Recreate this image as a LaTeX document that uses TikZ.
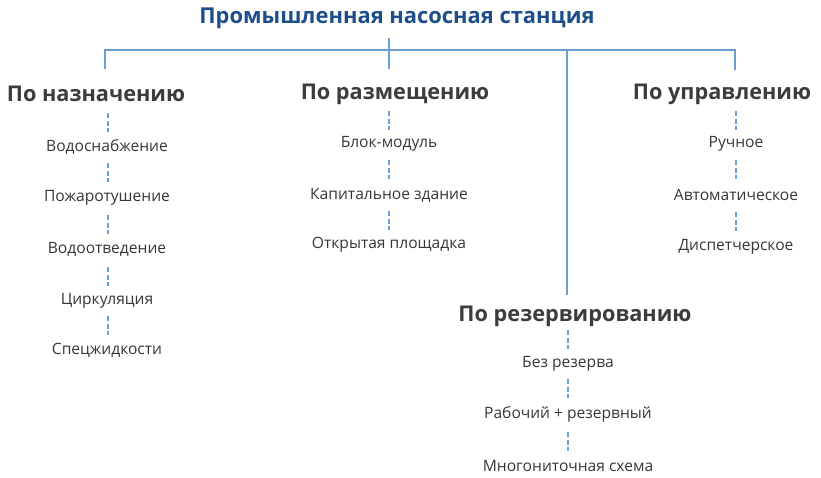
\documentclass[tikz,border=0pt]{standalone}
\usepackage{fontspec}
\setmainfont{Open Sans}
\definecolor{linec}{HTML}{6A9FD0}
\definecolor{titlec}{HTML}{1D4E8A}
\definecolor{headc}{HTML}{3C3C3C}
\definecolor{itemc}{HTML}{363636}
\begin{document}
\begin{tikzpicture}[x=1pt,y=-1pt,
  title/.style={text=titlec,font=\fontsize{21.9}{26}\selectfont\bfseries,inner sep=0pt},
  head/.style={text=headc,font=\fontsize{21.7}{26}\selectfont\bfseries,inner sep=0pt},
  item/.style={text=itemc,font=\fontsize{15.6}{19}\selectfont,inner sep=0pt},
  tree/.style={draw=linec,line width=1.8pt},
  dashln/.style={draw=linec,line width=1.8pt,dash pattern=on 5pt off 2.5pt}]
\useasboundingbox (0,0) rectangle (821,477);
\node[title] (t) at (397,18) {Промышленная насосная станция};
\coordinate (tb) at (389,38);
\coordinate (j) at (389,50);
\node[head] (h1) at (96,94) {По назначению};
\node[head] (h2) at (395,94) {По размещению};
\node[head] (h3) at (722,94) {По управлению};
\node[head] (h4) at (575,316) {По резервированию};
\coordinate (e1) at (105,69);
\coordinate (e2) at (389,69);
\coordinate (e3) at (567,295);
\coordinate (e4) at (735,70);
\draw[tree] (tb) -- (j);
\draw[tree] (e1) -- (105,50) -- (735,50) -- (e4);
\draw[tree] (389,50) -- (e2);
\draw[tree] (567,50) -- (e3);
% column 1
\node[item] (a1) at (107,147) {Водоснабжение};
\node[item] (a2) at (107,198) {Пожаротушение};
\node[item] (a3) at (107,249) {Водоотведение};
\node[item] (a4) at (107,301) {Циркуляция};
\node[item] (a5) at (107,350) {Спецжидкости};
\coordinate (a0) at (108,113);
\draw[dashln] (a0) -- (108,132);
\draw[dashln] (108,163) -- (108,182);
\draw[dashln] (108,215) -- (108,234);
\draw[dashln] (108,267) -- (108,286);
\draw[dashln] (108,316) -- (108,335);
% column 2
\node[item] (b1) at (389,144) {Блок-модуль};
\node[item] (b2) at (389,195) {Капитальное здание};
\node[item] (b3) at (389,245) {Открытая площадка};
\draw[dashln] (389,111) -- (389,130);
\draw[dashln] (389,160) -- (389,179);
\draw[dashln] (389,211) -- (389,230);
% column 3
\node[item] (c1) at (736,144) {Ручное};
\node[item] (c2) at (736,195) {Автоматическое};
\node[item] (c3) at (736,247) {Диспетчерское};
\draw[dashln] (736,111) -- (736,130);
\draw[dashln] (736,160) -- (736,179);
\draw[dashln] (736,212) -- (736,231);
% column 4
\node[item] (d1) at (568,364) {Без резерва};
\node[item] (d2) at (568,414) {Рабочий + резервный};
\node[item] (d3) at (568,466) {Многониточная схема};
\draw[dashln] (568,330) -- (568,349);
\draw[dashln] (568,379) -- (568,398);
\draw[dashln] (568,432) -- (568,451);
\end{tikzpicture}
\end{document}
